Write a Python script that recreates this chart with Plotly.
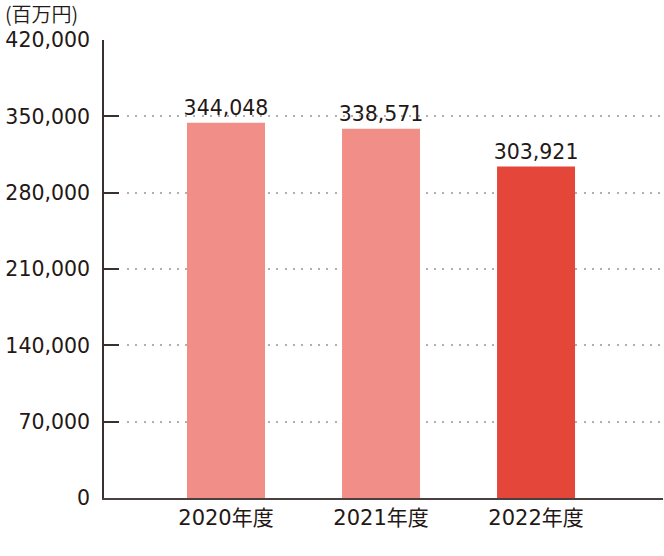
import plotly.graph_objects as go

categories = ["2020年度", "2021年度", "2022年度"]
values = [344048, 338571, 303921]
bar_colors = ["#F08E87", "#F08E87", "#E5463A"]
y_ticks = [0, 70000, 140000, 210000, 280000, 350000, 420000]
grid_ticks = [70000, 140000, 210000, 280000, 350000]
unit_label = "(百万円)"

FONT = "DejaVu Sans, Noto Sans CJK JP"
DARK = "#231815"
AXIS = "#3a3030"
xs = list(range(len(categories)))

fig = go.Figure()
# invisible trace creating the grid subplot (drawn first, underneath)
fig.add_trace(go.Scatter(x=[0], y=[0], xaxis="x", yaxis="y", mode="markers",
                         marker=dict(opacity=0), showlegend=False, hoverinfo="skip"))
fig.add_trace(go.Bar(
    x=xs, y=values, width=0.503, xaxis="x2", yaxis="y2",
    marker=dict(color=bar_colors, line=dict(width=0)),
    text=[f"{v:,}" for v in values], textposition="outside", constraintext="none",
    textfont=dict(family=FONT, size=20.5, color=DARK),
    cliponaxis=False, showlegend=False, hoverinfo="skip",
))

fig.update_layout(
    width=664, height=556,
    margin=dict(l=104, r=1, t=40, b=58),
    paper_bgcolor="white", plot_bgcolor="rgba(0,0,0,0)",
    font=dict(family=FONT, color=DARK),
    xaxis=dict(domain=[23 / 559, 1], range=[0, 1], anchor="y", visible=False),
    yaxis=dict(range=[0, 420000], anchor="x", tickvals=grid_ticks,
               showgrid=True, gridcolor="#b0b0b0", gridwidth=1.5, griddash="2px,6.3px",
               showticklabels=False, ticks="", zeroline=False, showline=False),
    xaxis2=dict(domain=[0, 1], anchor="y2", range=[-0.787, 2.819], tickvals=xs,
                ticktext=categories, showgrid=False, zeroline=False, showline=True,
                linecolor="#4a4040", linewidth=1.5, ticks="",
                tickfont=dict(family=FONT, size=21, color=DARK)),
    yaxis2=dict(range=[0, 420000], anchor="x2", tickvals=y_ticks,
                ticktext=[f"{v:,}" for v in y_ticks],
                showgrid=False, zeroline=False, showline=True, linecolor=AXIS,
                linewidth=1.5, ticks="inside", ticklen=15, tickwidth=1.5, tickcolor=AXIS,
                ticklabelstandoff=8, tickfont=dict(family=FONT, size=20.5, color=DARK)),
    annotations=[dict(text=unit_label, xref="paper", yref="paper",
                      x=(3 - 104) / 559, y=1 + (40 - 14) / 458, xanchor="left",
                      yanchor="middle", showarrow=False,
                      font=dict(family="Noto Sans CJK JP", size=20, color=DARK, weight=350))],
)

fig.write_html("out.html", config={"displayModeBar": False},
               post_script="document.body.style.margin='0px';")
